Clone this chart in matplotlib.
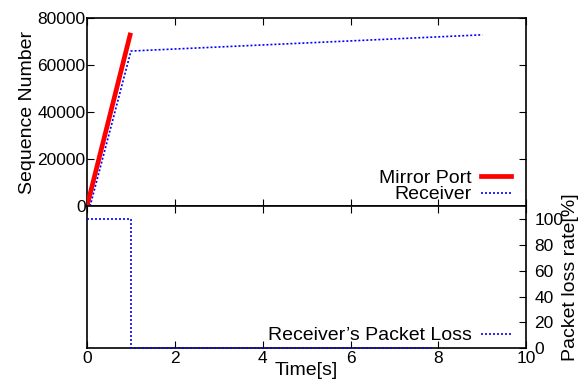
import matplotlib
matplotlib.use('Agg')
import matplotlib.pyplot as plt

plt.rcParams['font.family'] = ['Liberation Sans', 'DejaVu Sans']
plt.rcParams['font.size'] = 12.5

# Data
mirror_t = [0.0, 0.98]
mirror_seq = [0, 72800]

recv_t = [0.07, 1.0, 9.0]
recv_seq = [0, 66000, 72900]

loss_t = [0.0, 1.0, 1.0, 7.9]
loss_rate = [100, 100, 0, 0]

xticks = [0, 2, 4, 6, 8, 10]
seq_ticks = [0, 20000, 40000, 60000, 80000]
loss_ticks = [0, 20, 40, 60, 80, 100]

dotted = (0, (1.2, 1.2))

fig = plt.figure(figsize=(5.88, 3.86), dpi=100)
ax1 = fig.add_axes([0.148, 0.466, 0.747, 0.487])
ax2 = fig.add_axes([0.148, 0.098, 0.747, 0.368])

# Top panel: sequence numbers
ax1.plot(mirror_t, mirror_seq, color='#ff0000', lw=3.4, label='Mirror Port',
         zorder=3)
ax1.plot(recv_t, recv_seq, color='#0000ff', lw=1.2, ls=dotted, label='Receiver',
         zorder=3)
ax1.set_xlim(0, 10)
ax1.set_ylim(0, 80000)
ax1.set_xticks(xticks)
ax1.set_yticks(seq_ticks)
ax1.tick_params(direction='in', top=True, right=True, labelbottom=False,
                length=5, width=0.8, pad=1)
ax1.set_ylabel('Sequence Number', fontsize=14, labelpad=1)
ax1.legend(loc='lower right', frameon=False, fontsize=14,
           handlelength=1.55, borderaxespad=0.05, labelspacing=-0.05,
           markerfirst=False, handletextpad=0.45,
           bbox_to_anchor=(0.985, -0.032))

# Bottom panel: packet loss
ax2.plot(loss_t, loss_rate, color='#0000ff', lw=1.2, ls=dotted,
         label="Receiver\u2019s Packet Loss", zorder=5, clip_on=False)
ax2.set_xlim(0, 10)
ax2.set_ylim(0, 110)
ax2.set_xticks(xticks)
ax2.yaxis.tick_right()
ax2.yaxis.set_label_position('right')
ax2.set_yticks(loss_ticks)
ax2.tick_params(axis='x', direction='in', top=True, length=5, width=0.8, pad=2)
ax2.tick_params(axis='y', direction='in', left=False, right=True,
                length=5, width=0.8, pad=6)
ax2.set_ylabel('Packet loss rate[%]', fontsize=14, labelpad=-1)
ax2.set_xlabel('Time[s]', fontsize=14, labelpad=-3)
ax2.legend(loc='lower right', frameon=False, fontsize=14, handlelength=1.55,
           borderaxespad=0.05, markerfirst=False, handletextpad=0.45,
           bbox_to_anchor=(0.985, -0.035))

for ax in (ax1, ax2):
    for s in ax.spines.values():
        s.set_linewidth(1.2)

fig.savefig('out.png', dpi=100)
